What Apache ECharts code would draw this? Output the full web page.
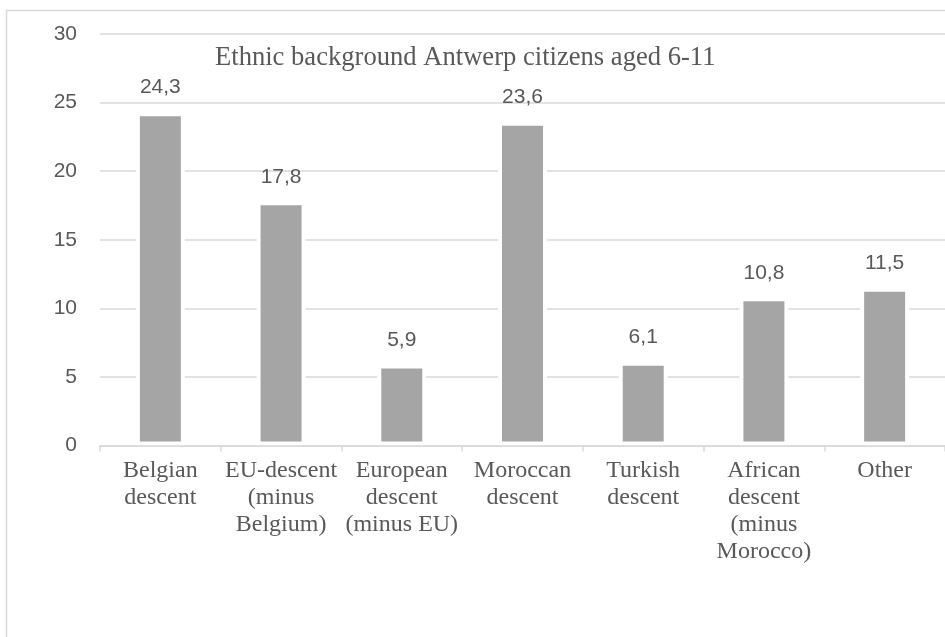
<!DOCTYPE html>
<html>
<head>
<meta charset="utf-8">
<script src="https://cdn.jsdelivr.net/npm/echarts@6/dist/echarts.min.js"></script>
<style>
  html, body { margin: 0; padding: 0; background: #fff; }
  #chart { width: 945px; height: 637px; }
</style>
</head>
<body>
<div id="chart"></div>
<script>
// categories (line breaks as in the original axis)
var categories = [
    'Belgian\ndescent',
    'EU-descent\n(minus\nBelgium)',
    'European\ndescent\n(minus EU)',
    'Moroccan\ndescent',
    'Turkish\ndescent',
    'African\ndescent\n(minus\nMorocco)',
    'Other'
];
var shares = [24.3, 17.8, 5.9, 23.6, 6.1, 10.8, 11.5];
var yTicks = [0, 5, 10, 15, 20, 25, 30];

var textGrey = '#595959';
var lineGrey = '#d9d9d9';

var mychart = echarts.init(document.getElementById('chart'));
var option = {
    backgroundColor: '#fff',
    animation: false,
    title: {
        text: 'Ethnic background Antwerp citizens aged 6-11',
        left: 215,
        top: 45,
        padding: 0,
        textStyle: {
            fontFamily: 'Liberation Serif',
            fontWeight: 'normal',
            fontSize: 26.6,
            color: textGrey
        }
    },
    graphic: [{
        type: 'rect',
        shape: { x: 6.5, y: 10.5, width: 1000, height: 700 },
        style: { fill: null, stroke: lineGrey, lineWidth: 1.5 },
        silent: true
    }],
    grid: {
        left: 100,
        top: 34,
        width: 856,
        bottom: 191.5
    },
    xAxis: {
        type: 'category',
        data: categories,
        z: 3,
        axisLine: { lineStyle: { color: lineGrey, width: 1.5 } },
        axisTick: { show: true, length: 6, lineStyle: { color: lineGrey, width: 1.5 } },
        axisLabel: {
            interval: 0,
            margin: 12,
            fontFamily: 'Liberation Serif',
            fontSize: 24,
            lineHeight: 27,
            color: textGrey
        }
    },
    yAxis: {
        type: 'value',
        min: yTicks[0],
        max: yTicks[yTicks.length - 1],
        interval: yTicks[1] - yTicks[0],
        axisLine: { show: false },
        axisTick: { show: false },
        splitLine: { lineStyle: { color: lineGrey, width: 1.5 } },
        axisLabel: {
            margin: 23,
            fontFamily: 'Liberation Sans',
            fontSize: 21,
            color: textGrey
        }
    },
    series: [{
        type: 'bar',
        data: shares,
        barWidth: 49,
        itemStyle: {
            color: '#a5a5a5',
            borderColor: '#ffffff',
            borderWidth: 4
        },
        label: {
            show: true,
            position: 'top',
            distance: 14,
            fontFamily: 'Liberation Sans',
            fontSize: 21,
            color: textGrey,
            formatter: function (p) {
                return p.value.toFixed(1).replace('.', ',');
            }
        }
    }]
};
mychart.setOption(option);
</script>
</body>
</html>
